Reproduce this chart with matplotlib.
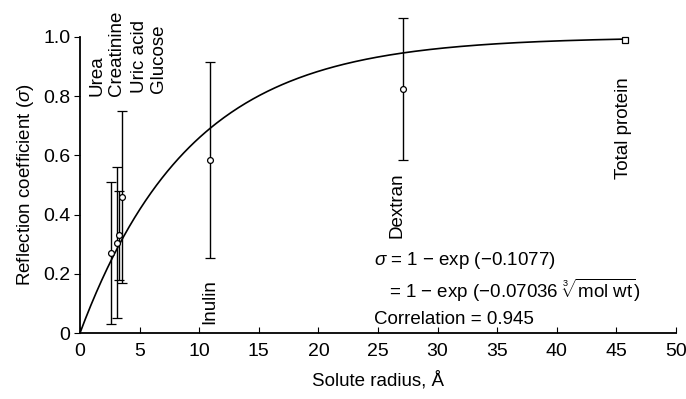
import numpy as np
import matplotlib.pyplot as plt

plt.rcParams['font.family'] = ['Liberation Sans', 'DejaVu Sans']
plt.rcParams['mathtext.fontset'] = 'custom'
plt.rcParams['mathtext.rm'] = 'Liberation Sans'
plt.rcParams['mathtext.it'] = 'Liberation Sans:italic'

# solutes: radius (A), reflection coefficient, error
names = ['Urea', 'Creatinine', 'Uric acid', 'Glucose', 'Inulin', 'Dextran']
radius = [2.6, 3.1, 3.3, 3.5, 10.9, 27.1]
sigma = [0.27, 0.305, 0.33, 0.46, 0.584, 0.823]
err = [0.24, 0.255, 0.15, 0.29, 0.33, 0.24]

protein_radius = 45.7
protein_sigma = 0.99

k = 0.1077

fig = plt.figure(figsize=(6.86, 3.99), dpi=100)
ax = fig.add_axes([0.1166, 0.1654, 0.8688, 0.742])

r = np.linspace(0, protein_radius, 300)
ax.plot(r, 1 - np.exp(-k * r), color='black', lw=1.2, clip_on=False)

ax.errorbar(radius, sigma, yerr=err, fmt='o', ms=4.2, mfc='white', mec='black',
            mew=0.9, ecolor='black', elinewidth=1.0, capsize=3.5, capthick=0.9,
            color='black', clip_on=False, zorder=3)
ax.plot([protein_radius], [protein_sigma], 's', ms=4.2, mfc='white', mec='black',
        mew=0.9, clip_on=False, zorder=3)

# rotated solute labels
lab_x = [1.4, 3.1, 5.0, 6.6, 10.9, 26.6, 45.6]
lab_y = [0.80, 0.80, 0.81, 0.81, 0.03, 0.32, 0.52]
lab_txt = names + ['Total protein']
for x, y, t in zip(lab_x, lab_y, lab_txt):
    ax.text(x, y, t, rotation=90, ha='center', va='bottom', fontsize=13.5)

ax.text(24.7, 0.245, r'$\mathit{\sigma}$ = 1 $-$ exp ($-$0.1077)', fontsize=13.5,
        ha='left', va='center')
ax.text(25.9, 0.145, r'= 1 $-$ exp ($-$0.07036 $\sqrt[3]{\mathrm{mol\ wt}}$)',
        fontsize=13.5, ha='left', va='center')
ax.text(24.7, 0.044, 'Correlation = 0.945', fontsize=13.5, ha='left', va='center')

ax.set_xlim(0, 50)
ax.set_ylim(0, 1.0)
ax.set_xticks(range(0, 51, 5))
ax.set_yticks([0, 0.2, 0.4, 0.6, 0.8, 1.0])
ax.set_yticklabels(['0', '0.2', '0.4', '0.6', '0.8', '1.0'])
ax.tick_params(axis='x', direction='in', length=4, labelsize=14, pad=7)
ax.tick_params(axis='y', direction='out', length=4, labelsize=14, pad=3)
for s in ['top', 'right']:
    ax.spines[s].set_visible(False)
ax.spines['left'].set_linewidth(1.3)
ax.spines['bottom'].set_linewidth(1.3)

ax.set_xlabel('Solute radius, Å', fontsize=13.5, labelpad=8)
ax.set_ylabel(r'Reflection coefficient ($\mathit{\sigma}$)', fontsize=13.5, labelpad=5)

fig.savefig('out.png', dpi=100)
